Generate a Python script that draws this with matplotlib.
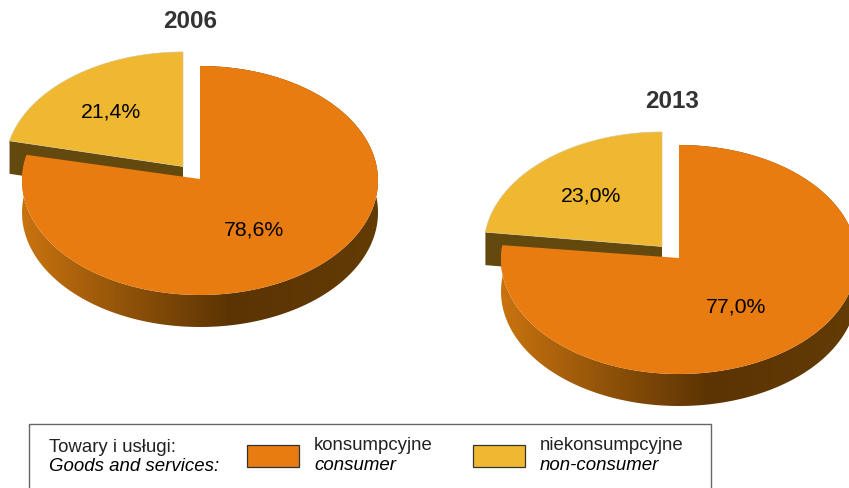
import numpy as np
from matplotlib import pyplot as plt
from matplotlib.colors import LinearSegmentedColormap
from matplotlib.patches import Polygon, Rectangle

plt.rcParams['font.family'] = ['Liberation Sans', 'DejaVu Sans']

years = ['2006', '2013']
consumer = [78.6, 77.0]
non_consumer = [21.4, 23.0]
legend_title = ['Towary i usługi:', 'Goods and services:']
legend_pl = ['konsumpcyjne', 'niekonsumpcyjne']
legend_en = ['consumer', 'non-consumer']

ORANGE = '#e97c10'
YELLOW = '#f0b830'
CUT = '#64490e'
RX, RY, DEPTH = 178, 114.5, 32

# layout in pixels, one entry per pie
orange_centre = [(200, 181.5), (679, 260.5)]
orange_tip_y = [180, 259]
yellow_tip = [(183, 167.5), (662, 247.5)]
title_pos = [(190, 22), (672, 101)]
orange_lab = [(254, 230), (736, 307)]
yellow_lab = [(111, 112), (591, 196)]

side_cmap = LinearSegmentedColormap.from_list(
    'side', [(0, '#c9730f'), (0.3, '#8f5209'), (0.58, '#5c3403'), (1, '#633b05')])


def arc(cx, cy, a0, a1):
    # angles in degrees, clockwise from 12 o'clock
    t = np.radians(np.linspace(a0, a1, 300))
    return np.column_stack([cx + RX * np.sin(t), cy - RY * np.cos(t)])


def draw_pie(ax, i):
    ox, oy = orange_centre[i]
    yx, yy = yellow_tip[i]
    split = consumer[i] / (consumer[i] + non_consumer[i]) * 360

    # yellow slice, its cut face is partly hidden by the orange one
    top = arc(yx, yy, split, 360)
    end = top[0]
    face = [(yx, yy), end, (end[0], end[1] + DEPTH + 1), (yx, yy + DEPTH + 1)]
    ax.add_patch(Polygon(face, fc=CUT, ec='none', zorder=1))
    ax.add_patch(Polygon(np.vstack([[(yx, yy)], top]), fc=YELLOW, ec='#d8c48a', lw=0.5, zorder=2))

    # orange side with shading from left to right
    top = arc(ox, oy, 0, split)
    band = np.vstack([top, top[::-1] + (0, DEPTH)])
    im = ax.imshow(np.linspace(0, 1, 256)[None, :], cmap=side_cmap, aspect='auto',
                   extent=(ox - RX, ox + RX, oy + RY + DEPTH, oy - RY), zorder=3)
    clip = Polygon(band, transform=ax.transData)
    im.set_clip_path(clip)
    ax.add_patch(Polygon(np.vstack([[(ox, orange_tip_y[i])], top]), fc=ORANGE, ec='none', zorder=4))

    ax.text(*title_pos[i], years[i], fontsize=17.5, fontweight='bold', color='#333333',
            ha='center', va='center', zorder=5)
    ax.text(*orange_lab[i], f'{consumer[i]:.1f}%'.replace('.', ','), fontsize=15.3,
            ha='center', va='center', zorder=5)
    ax.text(*yellow_lab[i], f'{non_consumer[i]:.1f}%'.replace('.', ','), fontsize=15.3,
            ha='center', va='center', zorder=5)


fig = plt.figure(figsize=(8.49, 4.89), dpi=100)
ax = fig.add_axes([0, 0, 1, 1])

for i in range(len(years)):
    draw_pie(ax, i)

# legend box, its bottom edge falls off the picture
ax.add_patch(Rectangle((29, 425), 682, 70, fc='white', ec='#666666', lw=1.0, zorder=6))
ax.text(49, 452, legend_title[0], fontsize=13.4, color='#222222', zorder=7)
ax.text(49, 471, legend_title[1], fontsize=13.4, style='italic', zorder=7)
for x, tx, col, pl, en in zip((247, 473), (314, 540), (ORANGE, YELLOW), legend_pl, legend_en):
    ax.add_patch(Rectangle((x, 446), 52, 22, fc=col, ec='#333333', lw=0.9, zorder=7))
    ax.text(tx, 450, pl, fontsize=13.4, color='#222222', zorder=7)
    ax.text(tx, 470, en, fontsize=13.4, style='italic', zorder=7)

ax.set_xlim(0, 849)
ax.set_ylim(489, 0)
ax.axis('off')

fig.savefig('out.png', dpi=100)
